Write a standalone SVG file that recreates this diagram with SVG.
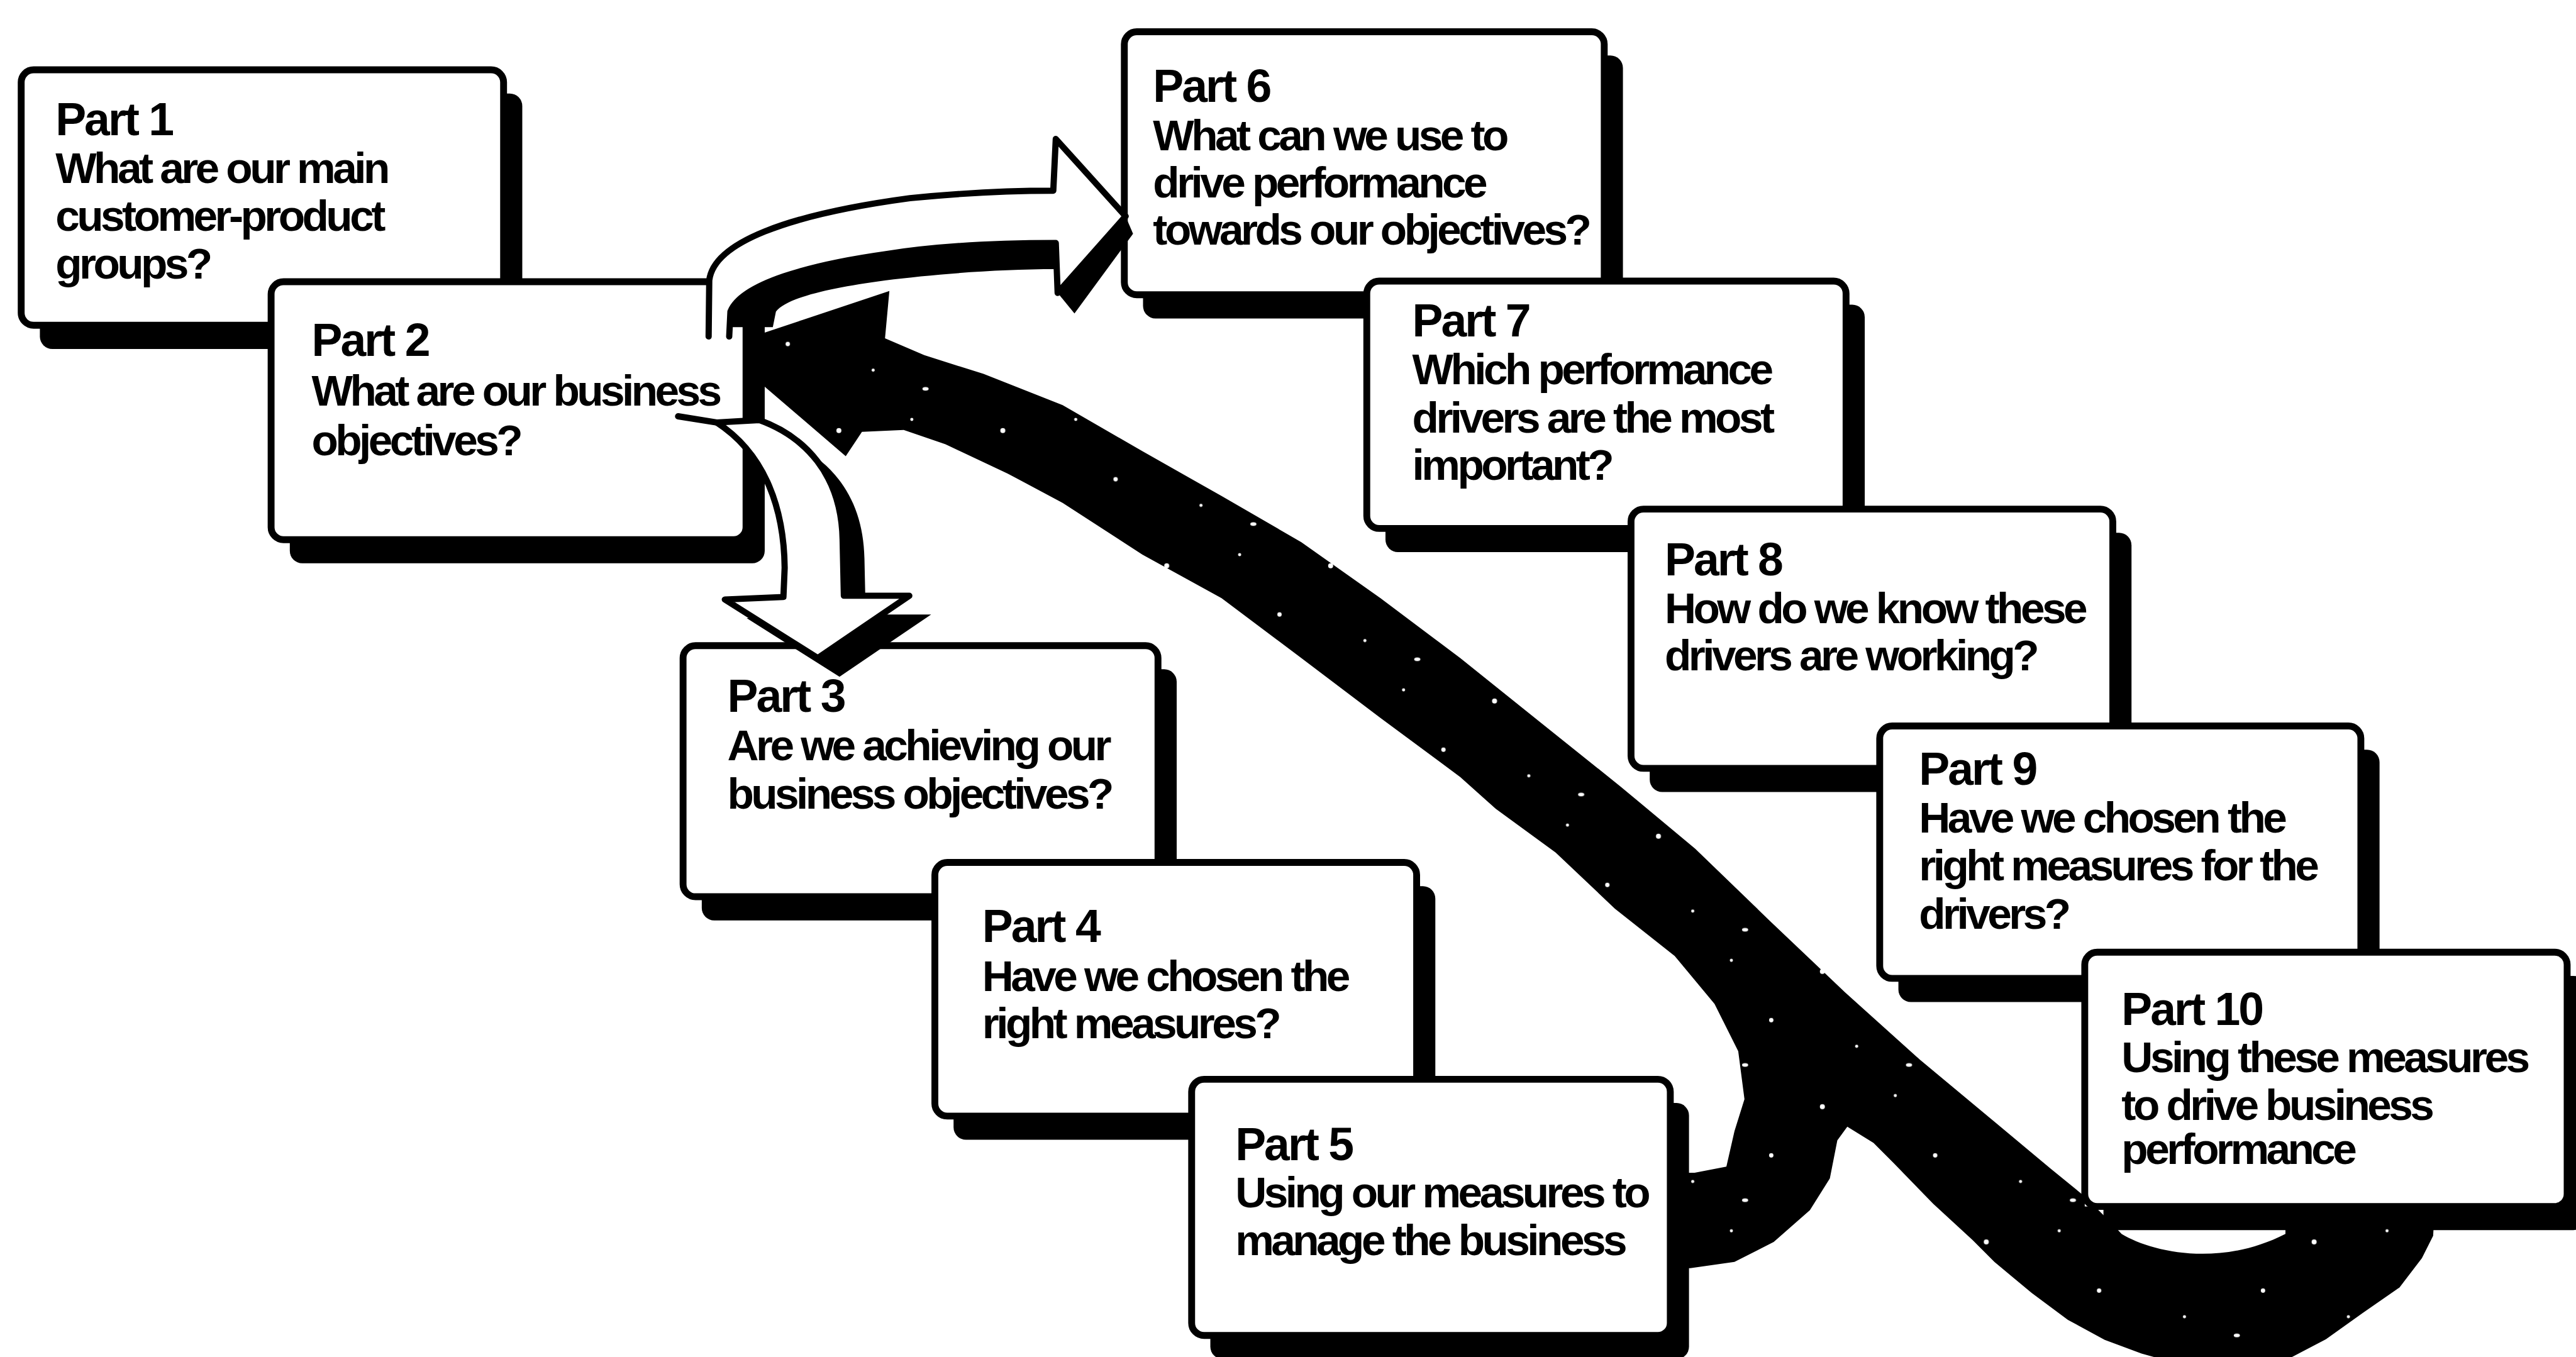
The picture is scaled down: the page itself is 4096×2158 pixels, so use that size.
<svg xmlns="http://www.w3.org/2000/svg" width="4096" height="2158" viewBox="0 0 4096 2158">
<defs>
<style>
.sh{fill:#000}
.bx{fill:#fff;stroke:#000;stroke-width:11}
.t{font-family:'Liberation Sans',Arial,sans-serif;font-weight:bold;font-size:74px;letter-spacing:-3px;fill:#000}
.b{font-family:'Liberation Sans',Arial,sans-serif;font-weight:bold;font-size:70px;letter-spacing:-4.6px;fill:#000}
.aw{fill:#fff;stroke:none}
.ao{fill:none;stroke:#000;stroke-width:10;stroke-linejoin:round;stroke-linecap:round}
.ak{fill:#000;stroke:none}
</style>
<pattern id="spk" patternUnits="userSpaceOnUse" width="263" height="217">
<rect width="263" height="217" fill="#000"/>
<circle cx="31" cy="40" r="4" fill="#fff"/>
<circle cx="148" cy="22" r="2.5" fill="#fff"/>
<circle cx="212" cy="118" r="3.5" fill="#fff"/>
<circle cx="86" cy="160" r="2.5" fill="#fff"/>
<ellipse cx="170" cy="190" rx="5" ry="3" fill="#fff"/>
</pattern>
<mask id="underBoxes" maskUnits="userSpaceOnUse" x="0" y="0" width="4200" height="2200">
<rect x="0" y="0" width="4200" height="2200" fill="#fff"/>
<rect x="435" y="452" width="762" height="414" fill="#000"/>
<rect x="1912" y="1732" width="768" height="411" fill="#000"/>
<rect x="3345" y="1528" width="774" height="408" fill="#000"/>
</mask>
</defs>
<rect x="0" y="0" width="4096" height="2158" fill="#fff"/>
<g transform="scale(0.991)">

<g id="part1">
<rect class="sh" x="64" y="150" width="774" height="410" rx="20"/>
<rect class="bx" x="34" y="112" width="774" height="410" rx="20"/>
<text class="t" x="89" y="217">Part 1</text>
<text class="b" x="89" y="294">What are our main</text>
<text class="b" x="89" y="370">customer-product</text>
<text class="b" x="89" y="447">groups?</text>
</g>

<g id="part2">
<rect class="sh" x="465" y="490" width="762" height="414" rx="20"/>
<rect class="bx" x="435" y="452" width="762" height="414" rx="20"/>
<text class="t" x="500" y="571">Part 2</text>
<text class="b" x="500" y="651">What are our business</text>
<text class="b" x="500" y="731">objectives?</text>
</g>

<g id="part3">
<rect class="sh" x="1126" y="1074" width="762" height="403" rx="20"/>
<rect class="bx" x="1096" y="1036" width="762" height="403" rx="20"/>
<text class="t" x="1167" y="1142">Part 3</text>
<text class="b" x="1167" y="1220">Are we achieving our</text>
<text class="b" x="1167" y="1298">business objectives?</text>
</g>

<g id="part4">
<rect class="sh" x="1530" y="1422" width="773" height="407" rx="20"/>
<rect class="bx" x="1500" y="1384" width="773" height="407" rx="20"/>
<text class="t" x="1576" y="1512">Part 4</text>
<text class="b" x="1576" y="1590">Have we chosen the</text>
<text class="b" x="1576" y="1666">right measures?</text>
</g>

<g id="part5">
<rect class="sh" x="1942" y="1770" width="768" height="411" rx="20"/>
<rect class="bx" x="1912" y="1732" width="768" height="411" rx="20"/>
<text class="t" x="1982" y="1862">Part 5</text>
<text class="b" x="1982" y="1937">Using our measures to</text>
<text class="b" x="1982" y="2014">manage the business</text>
</g>

<g id="part6">
<rect class="sh" x="1834" y="89" width="770" height="422" rx="20"/>
<rect class="bx" x="1804" y="51" width="770" height="422" rx="20"/>
<text class="t" x="1850" y="163">Part 6</text>
<text class="b" x="1850" y="241">What can we use to</text>
<text class="b" x="1850" y="317">drive performance</text>
<text class="b" x="1850" y="393">towards our objectives?</text>
</g>

<g id="part7">
<rect class="sh" x="2223" y="489" width="769" height="397" rx="20"/>
<rect class="bx" x="2193" y="451" width="769" height="397" rx="20"/>
<text class="t" x="2266" y="540">Part 7</text>
<text class="b" x="2266" y="617">Which performance</text>
<text class="b" x="2266" y="694">drivers are the most</text>
<text class="b" x="2266" y="770">important?</text>
</g>

<g id="part8">
<rect class="sh" x="2647" y="855" width="773" height="416" rx="20"/>
<rect class="bx" x="2617" y="817" width="773" height="416" rx="20"/>
<text class="t" x="2671" y="923">Part 8</text>
<text class="b" x="2671" y="1000">How do we know these</text>
<text class="b" x="2671" y="1076">drivers are working?</text>
</g>

<g id="part9">
<rect class="sh" x="3046" y="1203" width="772" height="405" rx="20"/>
<rect class="bx" x="3016" y="1165" width="772" height="405" rx="20"/>
<text class="t" x="3079" y="1259">Part 9</text>
<text class="b" x="3079" y="1336">Have we chosen the</text>
<text class="b" x="3079" y="1413">right measures for the</text>
<text class="b" x="3079" y="1490">drivers?</text>
</g>

<g id="part10">
<rect class="sh" x="3375" y="1566" width="774" height="408" rx="20"/>
<rect class="bx" x="3345" y="1528" width="774" height="408" rx="20"/>
<text class="t" x="3404" y="1645">Part 10</text>
<text class="b" x="3404" y="1720">Using these measures</text>
<text class="b" x="3404" y="1797">to drive business</text>
<text class="b" x="3404" y="1868">performance</text>
</g>

<g id="connectors">
<g id="feedback-arrow" mask="url(#underBoxes)">
<path fill="url(#spk)" d="M1154,558 L1427,467 L1420,543 L1483,570 L1578,600 L1705,650 L1833,724 L1960,796 L2088,870 L2215,960 L2343,1056 L2470,1158 L2600,1262 L2720,1362 L2840,1478 L2960,1592 L3080,1700 L3200,1800 L3290,1875 L3345,1920 L3390,1965 L3404,1980 C3450,2008 3560,2035 3667,1980 L3667,1965 L3905,1965 L3904,1983 L3886,2019 L3850,2066 L3791,2107 L3732,2149 L3673,2180 L3600,2195 L3500,2190 L3436,2172 L3377,2150 L3318,2118 L3260,2075 L3200,2025 L3165,1990 L3102,1932 L3038,1866 L3006,1834 L2964,1808 L2948,1830 L2936,1891 L2904,1942 L2846,1993 L2783,2025 L2712,2035 L2660,2035 L2660,1882 L2719,1882 L2770,1872 L2783,1815 L2799,1764 L2789,1687 L2751,1611 L2687,1534 L2591,1458 L2496,1368 L2400,1298 L2343,1247 L2215,1152 L2088,1056 L1960,960 L1833,890 L1705,807 L1617,760 L1517,713 L1450,690 L1383,693 L1357,732 Z"/>
</g>

<g id="arrow-2-to-6">
<path class="ak" d="M1694,390 L1694,432 C1600,432 1500,440 1420,450 C1330,462 1262,478 1245,500 L1240,525 L1172,525 L1172,500 C1190,455 1300,425 1420,408 C1500,395 1600,390 1694,390 Z"/>
<path class="ak" d="M1806,347 L1818,375 L1724,503 L1697,470 Z"/>
<path class="aw" d="M1137,540 L1138,450 C1145,390 1260,345 1460,318 C1560,308 1640,306 1690,306 L1694,223 L1806,347 L1697,470 L1694,390 C1600,390 1500,395 1420,408 C1300,425 1190,455 1172,500 L1170,540 Z"/>
<path class="ao" d="M1137,540 L1138,450 C1145,390 1260,345 1460,318 C1560,308 1640,306 1690,306 L1694,223 L1806,347 L1697,470 L1694,390 C1600,390 1500,395 1420,408 C1300,425 1190,455 1172,500 L1170,540"/>
</g>

<g id="arrow-2-to-3">
<path class="ak" transform="translate(35,30)" d="M1150,678 L1218,674 C1290,700 1350,760 1352,866 L1354,956 L1459,956 L1312,1056 L1163,962 L1257,958 L1259,911 C1258,820 1230,730 1150,678 Z"/>
<path class="aw" d="M1150,678 L1218,674 C1290,700 1350,760 1352,866 L1354,956 L1459,956 L1312,1056 L1163,962 L1257,958 L1259,911 C1258,820 1230,730 1150,678 Z"/>
<path class="ao" d="M1150,678 L1218,674 C1290,700 1350,760 1352,866 L1354,956 L1459,956 L1312,1056 L1163,962 L1257,958 L1259,911 C1258,820 1230,730 1150,678 Z"/>
<path class="ao" d="M1088,668 L1150,678"/>
</g>
</g>

</g>
</svg>
